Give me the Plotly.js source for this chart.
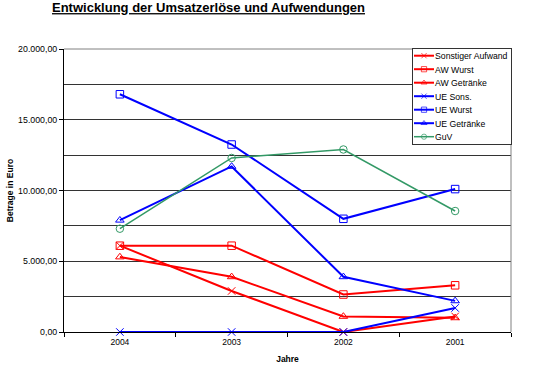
<!DOCTYPE html>
<html><head><meta charset="utf-8">
<script src="https://cdn.plot.ly/plotly-3.0.1.min.js"></script>
<style>body{margin:0;background:#fff}#chart{width:539px;height:372px}</style>
</head><body><div id="chart"></div>
<script>
const years = ['2004', '2003', '2002', '2001'];
const sonstigerAufwand = [6100, 2900, 0, 1100];
const awWurst = [6100, 6100, 2650, 3300];
const awGetraenke = [5300, 3900, 1100, 1000];
const ueSons = [0, 0, 0, 1700];
const ueWurst = [16800, 13250, 8000, 10100];
const ueGetraenke = [7900, 11700, 3900, 2200];
const guv = [7300, 12300, 12900, 8550];

const RED = '#ff0000', BLUE = '#0000ff', GREEN = '#339966';
function tr(name, y, color, symbol, lw) {
  return {
    type: 'scatter', mode: 'lines+markers', name: name, x: years, y: y,
    line: {color: color, width: lw},
    marker: {symbol: symbol, size: 7.5, color: color, line: {color: color, width: 1}},
    cliponaxis: false
  };
}
const data = [
  tr('Sonstiger Aufwand', sonstigerAufwand, RED, 'x-thin-open', 2),
  tr('AW Wurst', awWurst, RED, 'square-open', 2),
  tr('AW Getränke', awGetraenke, RED, 'triangle-up-open', 2),
  tr('UE Sons.', ueSons, BLUE, 'x-thin-open', 2),
  tr('UE Wurst', ueWurst, BLUE, 'square-open', 2),
  tr('UE Getränke', ueGetraenke, BLUE, 'triangle-up-open', 2),
  tr('GuV', guv, GREEN, 'circle-open', 1.5)
];
const FONT = 'Liberation Sans, Arial, sans-serif';
const layout = {
  width: 539, height: 372,
  margin: {l: 64, r: 28, t: 49, b: 40},
  paper_bgcolor: '#fff', plot_bgcolor: '#fff',
  separators: ',.',
  font: {family: FONT, size: 8, color: '#000'},
  showlegend: true,
  title: {
    text: '<b><u>Entwicklung der Umsatzerlöse und Aufwendungen</u></b>',
    font: {family: FONT, size: 13, color: '#000'},
    xref: 'container', x: 52 / 539, xanchor: 'left',
    yref: 'container', y: 1 - 3 / 372, yanchor: 'top'
  },
  xaxis: {
    type: 'category', range: [-0.5, 3.5], tickson: 'boundaries',
    ticks: 'outside', ticklen: 4, tickcolor: '#000', showgrid: false,
    showline: true, linecolor: '#000', linewidth: 1, zeroline: false,
    tickfont: {family: FONT, size: 8.5, color: '#000'}, ticklabelstandoff: 2,
    title: {text: '<b>Jahre</b>', font: {family: FONT, size: 8.5, color: '#000'}, standoff: 9},
    fixedrange: true
  },
  yaxis: {
    range: [0, 20000], tickmode: 'linear', tick0: 0, dtick: 5000,
    tickformat: ',.2f', ticks: 'outside', ticklen: 4, tickcolor: '#000',
    showline: true, linecolor: '#000', linewidth: 1, zeroline: false,
    showgrid: true, gridcolor: '#333', gridwidth: 1,
    minor: {dtick: 2500, showgrid: true, gridcolor: '#333', gridwidth: 1, ticks: ''},
    tickfont: {family: FONT, size: 8.8, color: '#000'},
    title: {text: '<b>Betrage in Euro</b>', font: {family: FONT, size: 8.5, color: '#000'}, standoff: 3},
    fixedrange: true
  },
  shapes: [{
    type: 'path', xref: 'paper', yref: 'paper', path: 'M0,1 L1,1 L1,0',
    line: {color: '#808080', width: 1}, layer: 'above'
  }],
  legend: {
    x: 1, xanchor: 'right', y: 1 + 1 / 283, yanchor: 'top',
    bgcolor: '#fff', bordercolor: '#333', borderwidth: 1,
    font: {family: FONT, size: 8.7, color: '#000'}, traceorder: 'normal'
  }
};
const gd = document.getElementById('chart');
Plotly.newPlot(gd, data, layout, {staticPlot: true, displayModeBar: false}).then(function () {
  try {
    const leg = gd.querySelector('.legend');
    const items = leg.querySelectorAll('g.traces');
    const step = 13.5, first = 7.7;
    let maxW = 0;
    items.forEach(function (g, i) {
      const m = /translate\(([-\d.]+)[ ,]+([-\d.]+)\)/.exec(g.getAttribute('transform') || '');
      const x0 = m ? parseFloat(m[1]) : 1;
      g.setAttribute('transform', 'translate(' + x0 + ',' + (first + i * step) + ')');
      g.querySelectorAll('.legendlines path').forEach(function (p) { p.setAttribute('d', 'M1,0h20'); });
      g.querySelectorAll('.legendpoints path').forEach(function (p) { p.setAttribute('transform', 'translate(11,0) scale(0.7)'); });
      const t = g.querySelector('text.legendtext');
      if (t) { t.setAttribute('x', 22); maxW = Math.max(maxW, t.getBBox().width); }
    });
    const bg = leg.querySelector('rect.bg');
    const w = Math.round(22 + maxW + 4);
    if (bg) {
      bg.setAttribute('height', first + 6 * step + 7);
      bg.setAttribute('width', w);
    }
    const lm = /translate\(([-\d.]+)[ ,]+([-\d.]+)\)/.exec(leg.getAttribute('transform') || '');
    const ly = lm ? parseFloat(lm[2]) : 48;
    leg.setAttribute('transform', 'translate(' + (511 - w) + ',' + ly + ')');
  } catch (e) { console.log(e); }
});
</script>
</body></html>
